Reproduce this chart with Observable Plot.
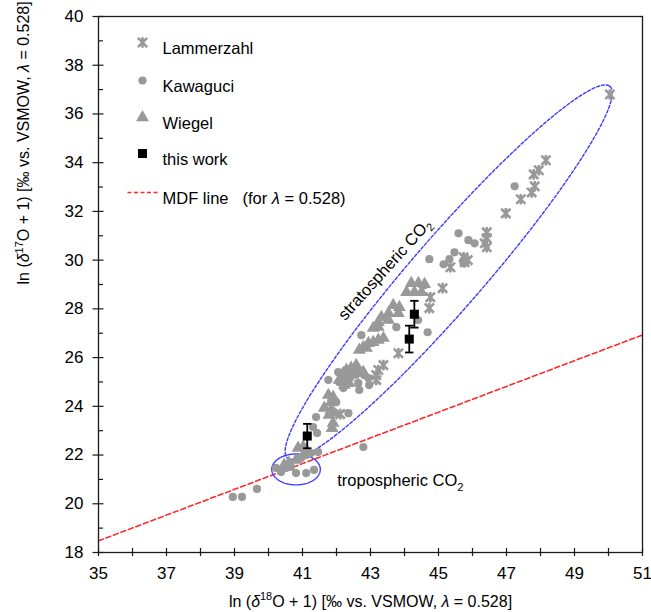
<!DOCTYPE html>
<html><head><meta charset="utf-8">
<script src="https://cdn.jsdelivr.net/npm/d3@7"></script>
<script src="https://cdn.jsdelivr.net/npm/@observablehq/plot@0.6"></script>
<style>
body{margin:0;background:#fff;}
#chart{width:651px;height:612px;}
</style></head><body><div id="chart"></div>
<script>
// ---------- data ----------
const lammerzahlX = [50.04, 48.16, 47.95, 47.80, 47.83, 47.74, 47.42, 46.98, 46.42, 46.36, 46.42, 46.42, 45.74, 45.86, 45.77, 45.35, 45.12, 44.76, 44.73, 43.82, 43.38, 43.23, 43.17, 43.17, 42.11];
const lammerzahlY = [36.80, 34.10, 33.69, 33.52, 33.03, 32.78, 32.50, 31.92, 31.14, 30.69, 30.90, 30.53, 30.12, 30.00, 29.91, 29.71, 28.85, 28.48, 28.03, 26.18, 25.69, 25.49, 25.28, 25.08, 23.68];

const kawaguciX = [47.24, 45.59, 45.88, 46.06, 45.47, 45.32, 45.15, 44.73, 45.74, 44.59, 44.68, 44.40, 43.76, 42.73, 42.67, 42.82, 42.94, 42.96, 42.64, 42.67, 42.20, 42.05, 42.08, 41.76, 41.99, 42.35, 41.40, 41.31, 41.43, 42.79, 40.96, 41.11, 41.25, 41.46, 40.22, 40.37, 40.52, 40.66, 40.81, 41.11, 41.34, 38.95, 39.22, 39.66];
const kawaguciY = [33.03, 31.10, 30.82, 30.69, 30.32, 30.04, 29.83, 30.04, 29.87, 28.97, 27.04, 27.54, 27.25, 26.92, 25.49, 25.28, 25.16, 24.87, 24.95, 24.67, 24.75, 25.40, 24.99, 25.08, 24.17, 23.72, 23.56, 23.15, 22.90, 22.33, 21.88, 22.00, 22.08, 22.12, 21.47, 21.30, 21.47, 21.51, 21.26, 21.26, 21.39, 20.28, 20.28, 20.61];

const wiegelX = [44.20, 44.41, 44.59, 44.06, 44.29, 44.50, 43.67, 43.85, 43.82, 43.53, 43.32, 43.23, 43.53, 43.08, 43.23, 43.38, 43.23, 43.08, 42.94, 42.79, 42.67, 42.88, 42.58, 42.43, 42.29, 42.20, 42.35, 42.49, 42.64, 42.79, 42.08, 42.23, 42.23, 42.37, 41.76, 41.90, 41.84, 41.64, 41.84, 41.93, 41.78, 41.90, 41.87, 40.87, 41.02, 41.11, 40.46, 40.60, 40.81];
const wiegelY = [29.05, 29.05, 29.01, 28.68, 28.68, 28.68, 28.15, 28.07, 27.82, 27.82, 27.66, 27.45, 27.54, 27.21, 27.25, 26.80, 26.72, 26.63, 26.59, 26.43, 26.31, 26.39, 25.69, 25.57, 25.49, 25.36, 25.20, 25.28, 25.36, 25.40, 25.08, 25.08, 24.87, 24.95, 24.46, 24.38, 24.17, 23.93, 23.85, 23.72, 23.64, 23.31, 23.10, 22.29, 22.33, 22.21, 21.59, 21.67, 21.80];

const thisWorkX = [44.29, 44.14, 41.14];
const thisWorkY = [27.78, 26.76, 22.78];
const thisWorkErr = [0.55, 0.55, 0.50];

const mdfLambda = 0.528;
const mdfX = [35, 51];

const xTickLabels = [35, 37, 39, 41, 43, 45, 47, 49, 51];
const xTicks = [35, 36, 37, 38, 39, 40, 41, 42, 43, 44, 45, 46, 47, 48, 49, 50, 51];
const yTickLabels = [18, 20, 22, 24, 26, 28, 30, 32, 34, 36, 38, 40];
const yMinorTicks = [19, 21, 23, 25, 27, 29, 31, 33, 35, 37, 39];

const legendLabels = ["Lammerzahl", "Kawaguci", "Wiegel", "this work"];
const mdfLegendLabel = "MDF line";
const mdfLegendNote = "(for _λ_ = 0.528)";

const xTitle = "ln (_δ_^18^O + 1) [‰ vs. VSMOW, _λ_ = 0.528]";
const yTitle = "ln (_δ_^17^O + 1) [‰ vs. VSMOW, _λ_ = 0.528]";

// annotation ellipses (center, conjugate half-axes, in data units)
const stratEllipse = {cx: 45.30, cy: 29.505, ax: 4.745, ay: 7.625, bx: 0.80, by: -0.97};
const tropoEllipse = {cx: 40.81, cy: 21.41, ax: 0.714, ay: 0, bx: 0, by: 0.635};
const stratLabel = {x: 43.42, y: 29.62, text: "stratospheric CO~2~"};
const tropoLabel = {x: 43.88, y: 20.93, text: "tropospheric CO~2~"};

// ---------- build ----------
const zip = (xs, ys) => xs.map((x, i) => ({x, y: ys[i]}));
const lammerzahl = zip(lammerzahlX, lammerzahlY);
const kawaguci = zip(kawaguciX, kawaguciY);
const wiegel = zip(wiegelX, wiegelY);
const thisWork = thisWorkX.map((x, i) => ({x, y: thisWorkY[i], err: thisWorkErr[i]}));
const mdf = mdfX.map(x => ({x, y: mdfLambda * x}));

function ellipsePts(e) {
  return d3.range(0, 361, 2).map(deg => {
    const t = deg * Math.PI / 180;
    return {x: e.cx + e.ax * Math.cos(t) + e.bx * Math.sin(t),
            y: e.cy + e.ay * Math.cos(t) + e.by * Math.sin(t)};
  });
}

const starSym = {draw(ctx, size) {
  const r = Math.sqrt(size / Math.PI);
  ctx.moveTo(-r, -r); ctx.lineTo(r, r);
  ctx.moveTo(r, -r); ctx.lineTo(-r, r);
  ctx.moveTo(0, -r * 1.15); ctx.lineTo(0, r * 1.15);
}};
const hline = {draw(ctx, size) {
  const r = Math.sqrt(size / Math.PI);
  ctx.moveTo(-r, 0); ctx.lineTo(r, 0);
}};

const GRAY = "#999999";
const FONT = "'Liberation Sans', Arial, Helvetica, sans-serif";
const legendDy = [26, 64, 101, 137, 176];
const legendSyms = [
  {symbol: starSym, r: 4.6, stroke: GRAY, strokeWidth: 2.6, fill: "none"},
  {symbol: "circle", r: 4.1, fill: GRAY},
  {symbol: "triangle", r: 4.8, fill: GRAY},
  {symbol: "square", r: 5.1, fill: "#000"}
];

const legendMarks = [];
legendLabels.forEach((lab, i) => {
  legendMarks.push(Plot.dot([0], {frameAnchor: "top-left", dx: 44, dy: legendDy[i], ...legendSyms[i]}));
  legendMarks.push(Plot.text([lab], {text: d => d, frameAnchor: "top-left", dx: 64, dy: legendDy[i], textAnchor: "start", fontSize: 16.5}));
});
legendMarks.push(Plot.dot([0], {frameAnchor: "top-left", dx: 44.5, dy: legendDy[4], symbol: hline, r: 15.5, stroke: "#ff2a2a", strokeWidth: 1.5, strokeDasharray: "4,2.5"}));
legendMarks.push(Plot.text([mdfLegendLabel], {text: d => d, frameAnchor: "top-left", dx: 64, dy: legendDy[4], textAnchor: "start", fontSize: 16.5}));
legendMarks.push(Plot.text([mdfLegendNote], {text: d => d, frameAnchor: "top-left", dx: 144, dy: legendDy[4], textAnchor: "start", fontSize: 16.5}));

const plot = Plot.plot({
  width: 651, height: 612,
  marginLeft: 98, marginRight: 9, marginTop: 16, marginBottom: 60,
  x: {domain: [35, 51]},
  y: {domain: [18, 40]},
  style: {fontFamily: FONT, fontSize: "17px", color: "#000", background: "#fff"},
  marks: [
    Plot.line(mdf, {x: "x", y: "y", stroke: "#ff2a2a", strokeWidth: 1.6, strokeDasharray: "5,3"}),
    Plot.line(ellipsePts(stratEllipse), {x: "x", y: "y", stroke: "#3c3cff", strokeWidth: 1.4, strokeDasharray: "3,2"}),
    Plot.line(ellipsePts(tropoEllipse), {x: "x", y: "y", stroke: "#4040ff", strokeWidth: 1.4}),
    Plot.dot(lammerzahl, {x: "x", y: "y", symbol: starSym, r: 4.6, stroke: GRAY, strokeWidth: 2.6, fill: "none"}),
    Plot.dot(kawaguci, {x: "x", y: "y", symbol: "circle", r: 4.1, fill: GRAY}),
    Plot.dot(wiegel, {x: "x", y: "y", symbol: "triangle", r: 4.8, fill: GRAY}),
    Plot.ruleX(thisWork, {x: "x", y1: d => d.y - d.err, y2: d => d.y + d.err, stroke: "#000", strokeWidth: 1.8}),
    Plot.dot(thisWork, {x: "x", y: d => d.y + d.err, symbol: hline, r: 4.2, stroke: "#000", strokeWidth: 1.8}),
    Plot.dot(thisWork, {x: "x", y: d => d.y - d.err, symbol: hline, r: 4.2, stroke: "#000", strokeWidth: 1.8}),
    Plot.dot(thisWork, {x: "x", y: "y", symbol: "square", r: 5.1, fill: "#000"}),
    Plot.text([stratLabel], {x: "x", y: "y", text: "text", rotate: -48, fontSize: 16.5}),
    Plot.text([tropoLabel], {x: "x", y: "y", text: "text", fontSize: 16.5}),
    Plot.frame({stroke: "#1a1a1a", strokeWidth: 1.3}),
    Plot.axisX(xTickLabels, {anchor: "bottom", tickSize: 0, tickPadding: 14, fontSize: 17, label: null}),
    Plot.axisX(xTicks, {anchor: "bottom", tickSize: 8, dy: -4, tickFormat: () => "", label: null, stroke: "#1a1a1a", strokeWidth: 1.2}),
    Plot.axisY(yTickLabels, {anchor: "left", tickSize: 0, tickPadding: 15, fontSize: 17, label: null}),
    Plot.axisY(yTickLabels, {anchor: "left", tickSize: 11, dx: 5.5, tickFormat: () => "", label: null, stroke: "#1a1a1a", strokeWidth: 1.2}),
    Plot.axisY(yMinorTicks, {anchor: "left", tickSize: 5, dx: 5, tickFormat: () => "", label: null, stroke: "#1a1a1a", strokeWidth: 1.2}),
    Plot.text([xTitle], {text: d => d, frameAnchor: "bottom", dy: 54, fontSize: 16}),
    Plot.text([yTitle], {text: d => d, frameAnchor: "left", dx: -75, rotate: -90, fontSize: 16}),
    ...legendMarks
  ]
});
document.getElementById("chart").appendChild(plot);

// rich text: _italic_, ^superscript^, ~subscript~
function richify(svg) {
  svg.querySelectorAll("text").forEach(t => {
    const s = t.textContent;
    if (!/[_^~]/.test(s) || t.querySelector("tspan")) return;
    const fs = parseFloat(getComputedStyle(t).fontSize) || 16;
    t.textContent = "";
    const parts = s.split(/(_[^_]+_|\^[^^]+\^|~[^~]+~)/).filter(p => p);
    let cur = 0;
    for (const p of parts) {
      const ts = document.createElementNS("http://www.w3.org/2000/svg", "tspan");
      let target = 0, txt = p;
      if (p[0] === "_") { txt = p.slice(1, -1); ts.setAttribute("font-style", "italic"); }
      else if (p[0] === "^") { txt = p.slice(1, -1); target = -0.38 * fs; ts.setAttribute("font-size", (fs * 0.68).toFixed(1)); }
      else if (p[0] === "~") { txt = p.slice(1, -1); target = 0.25 * fs; ts.setAttribute("font-size", (fs * 0.68).toFixed(1)); }
      if (target !== cur) { ts.setAttribute("dy", (target - cur).toFixed(2)); cur = target; }
      ts.textContent = txt;
      t.appendChild(ts);
    }
  });
}
richify(plot);
</script>
</body></html>
